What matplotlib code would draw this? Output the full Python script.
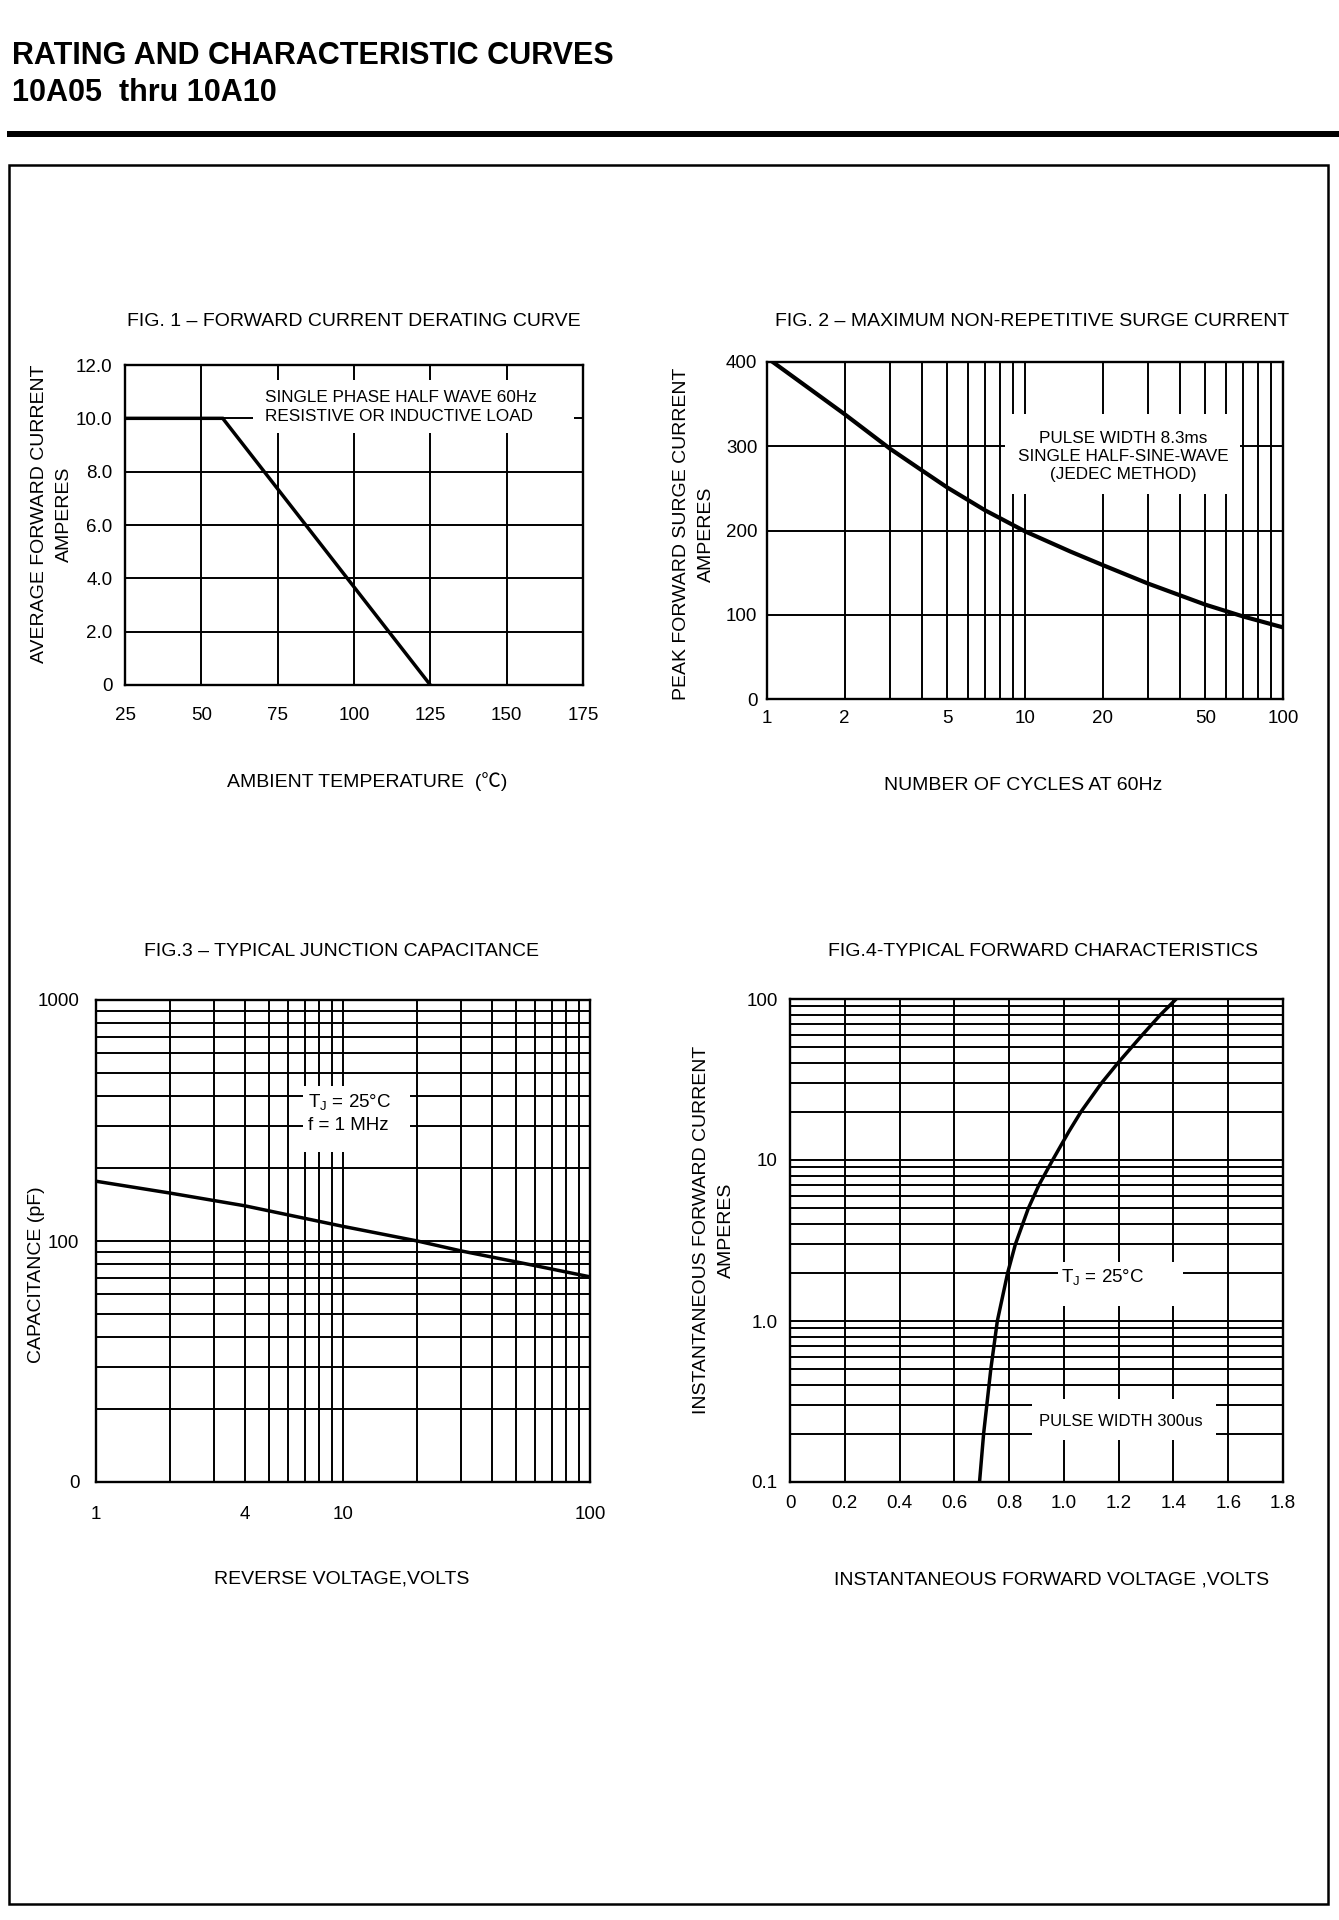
import matplotlib
matplotlib.use("Agg")
import matplotlib.pyplot as plt
from matplotlib.patches import Rectangle
from matplotlib.ticker import FixedLocator, NullFormatter, FixedFormatter

plt.rcParams['font.family'] = ['Liberation Sans', 'Noto Sans CJK SC', 'DejaVu Sans']
plt.rcParams['mathtext.fontset'] = 'custom'
plt.rcParams['mathtext.rm'] = 'Liberation Sans'

# ---------------- data ----------------
# Fig 1: forward current derating
fig1_temp = [25, 57, 125]
fig1_current = [10.0, 10.0, 0.0]
fig1_xticks = [25, 50, 75, 100, 125, 150, 175]
fig1_yticks = [0, 2, 4, 6, 8, 10, 12]
fig1_ylabels = ["0", "2.0", "4.0", "6.0", "8.0", "10.0", "12.0"]

# Fig 2: surge current vs cycles
fig2_cycles = [1, 2, 3, 4, 5, 7, 10, 15, 20, 30, 50, 70, 100]
fig2_surge = [405, 338, 297, 271, 251, 224, 199, 175, 159, 137, 112, 98, 85]
fig2_xticks = [1, 2, 5, 10, 20, 50, 100]
fig2_yticks = [0, 100, 200, 300, 400]

# Fig 3: junction capacitance
fig3_volts = [1, 2, 4, 10, 20, 30, 60, 100]
fig3_cap = [177, 158, 140, 115, 100, 91, 79, 71]
fig3_xticks = [1, 4, 10, 100]
fig3_yticks = [10, 100, 1000]
fig3_ylabels = ["0", "100", "1000"]

# Fig 4: forward characteristics
fig4_vf = [0.692, 0.707, 0.733, 0.757, 0.795, 0.823, 0.870, 0.909, 0.959,
           1.018, 1.063, 1.137, 1.197, 1.287, 1.353, 1.41]
fig4_if = [0.1, 0.2, 0.5, 1.0, 2.0, 3.0, 5.0, 7.0, 10,
           15, 20, 30, 40, 60, 80, 100]
fig4_xticks = [0, 0.2, 0.4, 0.6, 0.8, 1.0, 1.2, 1.4, 1.6, 1.8]
fig4_xlabels = ["0", "0.2", "0.4", "0.6", "0.8", "1.0", "1.2", "1.4", "1.6", "1.8"]
fig4_yticks = [0.1, 1, 10, 100]
fig4_ylabels = ["0.1", "1.0", "10", "100"]

# ---------------- layout ----------------
W, H = 1339, 1920
fig = plt.figure(figsize=(W / 100, H / 100), dpi=100)
fig.patch.set_facecolor('white')


def fx(x):
    return x / W


def fy(y):
    return 1 - y / H


def axes_px(l, t, r, b):
    return fig.add_axes([fx(l), fy(b), (r - l) / W, (b - t) / H])


GRID_LW = 1.4
CURVE_LW = 2.5
TICK_FS = 13.5
LABEL_FS = 14
BOX_FS = 12.3


def style_axes(ax, xpad, ypad):
    ax.set_axisbelow(True)
    for s in ax.spines.values():
        s.set_linewidth(1.7)
        s.set_color('black')
    ax.tick_params(which='both', length=0, labelsize=TICK_FS, colors='black')
    ax.tick_params(axis='x', pad=xpad)
    ax.tick_params(axis='y', pad=ypad)


def white_box(ax, x0, x1, y0, y1):
    ax.add_patch(Rectangle((x0, y0), x1 - x0, y1 - y0, facecolor='white',
                           edgecolor='none', zorder=1))


# header
fig.text(fx(12), fy(64), "RATING AND CHARACTERISTIC CURVES", fontsize=22,
         fontweight='bold', ha='left', va='baseline')
fig.text(fx(12), fy(101), "10A05  thru 10A10", fontsize=22,
         fontweight='bold', ha='left', va='baseline')
fig.add_artist(Rectangle((fx(7), fy(137)), (1339 - 7) / W, 6 / H,
                         facecolor='black', edgecolor='none', transform=fig.transFigure))
fig.add_artist(Rectangle((fx(9), fy(1904)), (1328 - 9) / W, (1904 - 165) / H,
                         facecolor='none', edgecolor='black', linewidth=1.8,
                         transform=fig.transFigure))

# ---------------- Fig 1 ----------------
ax1 = axes_px(125, 365, 583, 685)
ax1.plot(fig1_temp, fig1_current, color='black', lw=CURVE_LW, zorder=3,
         solid_joinstyle='miter')
ax1.set_xlim(25, 175)
ax1.set_ylim(0, 12)
ax1.set_xticks(fig1_xticks)
ax1.set_yticks(fig1_yticks)
ax1.set_yticklabels(fig1_ylabels)
ax1.grid(True, color='black', lw=GRID_LW)
style_axes(ax1, 16, 9)
white_box(ax1, 67, 172, 9.45, 11.45)
ax1.text(71, 10.42, "SINGLE PHASE HALF WAVE 60Hz\nRESISTIVE OR INDUCTIVE LOAD",
         fontsize=BOX_FS, ha='left', va='center', linespacing=1.3, zorder=4)
fig.text(fx(354), fy(321), "FIG. 1 – FORWARD CURRENT DERATING CURVE", fontsize=LABEL_FS,
         ha='center', va='center')
fig.text(fx(40), fy(514), "AVERAGE FORWARD CURRENT", fontsize=LABEL_FS, rotation=90,
         ha='center', va='center')
fig.text(fx(64), fy(514), "AMPERES", fontsize=LABEL_FS, rotation=90, ha='center', va='center')
fig.text(fx(367), fy(782), "AMBIENT TEMPERATURE  (℃)", fontsize=LABEL_FS,
         ha='center', va='center')

# ---------------- Fig 2 ----------------
ax2 = axes_px(767, 362, 1283, 699)
ax2.plot(fig2_cycles, fig2_surge, color='black', lw=CURVE_LW + 0.5, zorder=3)
ax2.set_xscale('log')
ax2.set_xlim(1, 100)
ax2.set_ylim(0, 400)
ax2.xaxis.set_major_locator(FixedLocator(fig2_xticks))
ax2.xaxis.set_major_formatter(FixedFormatter([str(v) for v in fig2_xticks]))
ax2.xaxis.set_minor_locator(FixedLocator([3, 4, 6, 7, 8, 9, 30, 40, 60, 70, 80, 90]))
ax2.xaxis.set_minor_formatter(NullFormatter())
ax2.set_yticks(fig2_yticks)
ax2.grid(True, which='both', axis='x', color='black', lw=GRID_LW)
ax2.grid(True, which='major', axis='y', color='black', lw=GRID_LW)
style_axes(ax2, 8, 7)
white_box(ax2, 8.4, 68, 243, 338)
ax2.text(24, 288, "PULSE WIDTH 8.3ms\nSINGLE HALF-SINE-WAVE\n(JEDEC METHOD)",
         fontsize=BOX_FS, ha='center', va='center', linespacing=1.25, zorder=4)
fig.text(fx(1032), fy(321), "FIG. 2 – MAXIMUM NON-REPETITIVE SURGE CURRENT",
         fontsize=LABEL_FS, ha='center', va='center')
fig.text(fx(682), fy(534), "PEAK FORWARD SURGE CURRENT", fontsize=LABEL_FS, rotation=90,
         ha='center', va='center')
fig.text(fx(706), fy(534), "AMPERES", fontsize=LABEL_FS, rotation=90, ha='center', va='center')
fig.text(fx(1023), fy(785), "NUMBER OF CYCLES AT 60Hz", fontsize=LABEL_FS,
         ha='center', va='center')

# ---------------- Fig 3 ----------------
ax3 = axes_px(96, 1000, 590, 1482)
ax3.plot(fig3_volts, fig3_cap, color='black', lw=CURVE_LW, zorder=3)
ax3.set_xscale('log')
ax3.set_yscale('log')
ax3.set_xlim(1, 100)
ax3.set_ylim(10, 1000)
ax3.xaxis.set_major_locator(FixedLocator(fig3_xticks))
ax3.xaxis.set_major_formatter(FixedFormatter([str(v) for v in fig3_xticks]))
ax3.xaxis.set_minor_locator(FixedLocator([2, 3, 5, 6, 7, 8, 9, 20, 30, 40, 50, 60, 70, 80, 90]))
ax3.xaxis.set_minor_formatter(NullFormatter())
ax3.yaxis.set_major_locator(FixedLocator(fig3_yticks))
ax3.yaxis.set_major_formatter(FixedFormatter(fig3_ylabels))
ax3.yaxis.set_minor_locator(FixedLocator([20, 30, 40, 50, 60, 70, 80, 90,
                                          200, 300, 400, 500, 600, 700, 800, 900]))
ax3.yaxis.set_minor_formatter(NullFormatter())
ax3.grid(True, which='both', color='black', lw=GRID_LW)
style_axes(ax3, 17, 12)
white_box(ax3, 6.9, 18.6, 233, 438)
ax3.text(7.2, 338, "T$_\\mathregular{J}$ = 25°C\nf = 1 MHz", fontsize=13.5,
         ha='left', va='center', linespacing=1.35, zorder=4)
fig.text(fx(341), fy(952), "FIG.3 – TYPICAL JUNCTION CAPACITANCE", fontsize=LABEL_FS,
         ha='center', va='center')
fig.text(fx(37), fy(1275), "CAPACITANCE (pF)", fontsize=LABEL_FS, rotation=90,
         ha='center', va='center')
fig.text(fx(342), fy(1579), "REVERSE VOLTAGE,VOLTS", fontsize=LABEL_FS,
         ha='center', va='center')

# ---------------- Fig 4 ----------------
ax4 = axes_px(790, 999, 1283, 1482)
ax4.plot(fig4_vf, fig4_if, color='black', lw=CURVE_LW, zorder=3)
ax4.set_yscale('log')
ax4.set_xlim(0, 1.8)
ax4.set_ylim(0.1, 100)
ax4.set_xticks(fig4_xticks)
ax4.set_xticklabels(fig4_xlabels)
ax4.yaxis.set_major_locator(FixedLocator(fig4_yticks))
ax4.yaxis.set_major_formatter(FixedFormatter(fig4_ylabels))
ax4.yaxis.set_minor_locator(FixedLocator([0.2, 0.3, 0.4, 0.5, 0.6, 0.7, 0.8, 0.9,
                                          2, 3, 4, 5, 6, 7, 8, 9,
                                          20, 30, 40, 50, 60, 70, 80, 90]))
ax4.yaxis.set_minor_formatter(NullFormatter())
ax4.grid(True, which='major', axis='x', color='black', lw=GRID_LW)
ax4.grid(True, which='both', axis='y', color='black', lw=GRID_LW)
style_axes(ax4, 9, 9)
white_box(ax4, 0.978, 1.436, 1.24, 2.31)
ax4.text(0.99, 1.86, "T$_\\mathregular{J}$ = 25°C", fontsize=13.5,
         ha='left', va='center', zorder=4)
white_box(ax4, 0.883, 1.555, 0.183, 0.33)
ax4.text(1.207, 0.236, "PULSE WIDTH 300us", fontsize=12,
         ha='center', va='center', zorder=4)
fig.text(fx(1043), fy(952), "FIG.4-TYPICAL FORWARD CHARACTERISTICS", fontsize=LABEL_FS,
         ha='center', va='center')
fig.text(fx(701), fy(1230), "INSTANTANEOUS FORWARD CURRENT", fontsize=LABEL_FS, rotation=90,
         ha='center', va='center')
fig.text(fx(726), fy(1230), "AMPERES", fontsize=LABEL_FS, rotation=90, ha='center', va='center')
fig.text(fx(1052), fy(1580), "INSTANTANEOUS FORWARD VOLTAGE ,VOLTS", fontsize=LABEL_FS,
         ha='center', va='center')

fig.savefig("out.png", dpi=100, facecolor='white')
